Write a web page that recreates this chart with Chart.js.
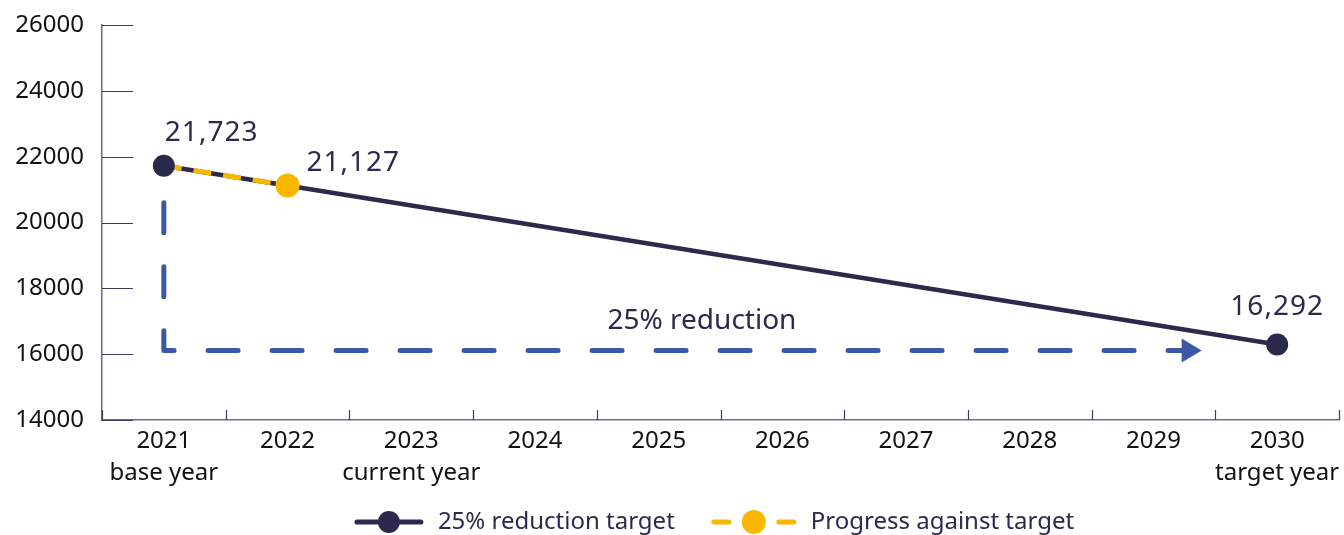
<!DOCTYPE html>
<html>
<head>
<meta charset="utf-8">
<title>Emissions reduction target</title>
<script src="https://cdn.jsdelivr.net/npm/chart.js@4.4.1/dist/chart.umd.min.js"></script>
<style>
  html, body { margin: 0; padding: 0; background: #ffffff; }
  #wrap { width: 1344px; height: 535px; position: relative; }
</style>
</head>
<body>
<div id="wrap"><canvas id="chart"></canvas></div>
<script>
// ---- data ----
const years = ['2021', '2022', '2023', '2024', '2025', '2026', '2027', '2028', '2029', '2030'];
const yearNotes = ['base year', '', 'current year', '', '', '', '', '', '', 'target year'];
const targetValues = [21723, null, null, null, null, null, null, null, null, 16292];
const progressValues = [21723, 21127, null, null, null, null, null, null, null, null];
const yTickValues = [14000, 16000, 18000, 20000, 22000, 24000, 26000];
const seriesNames = ['25% reduction target', 'Progress against target'];

// dashed "25% reduction" bracket, in data coordinates (category index / value)
const reductionArrow = { fromIndex: 0, toIndex: 8.39, topValue: 20600, baseValue: 16110 };
const reductionNote = { text: '25% reduction', index: 4.35, value: 17000 };

// ---- styles ----
const NAVY = '#2b2a4c';
const GOLD = '#f9b700';
const BLUE = '#3b58a6';
const AXIS = '#6f6d8a';
const FONT = '"Noto Sans", "Open Sans", sans-serif';

const fmt = v => v.toLocaleString('en-US');

const decorations = {
  id: 'decorations',
  beforeDatasetsDraw(chart) {
    const { ctx, chartArea: a, scales: { x, y } } = chart;
    ctx.save();
    // inward tick marks on both axes
    ctx.strokeStyle = '#3d3c5c';
    ctx.lineWidth = 1.2;
    ctx.beginPath();
    yTickValues.forEach(v => {
      const py = Math.round(y.getPixelForValue(v)) + 0.5;
      ctx.moveTo(a.left, py);
      ctx.lineTo(a.left + 31, py);
    });
    for (let i = 0; i <= years.length; i++) {
      const px = Math.round(x.getPixelForValue(i - 0.5)) + 0.5;
      ctx.moveTo(px, a.bottom);
      ctx.lineTo(px, a.bottom - 10);
    }
    ctx.stroke();

    // reduction bracket with arrow head
    const x0 = x.getPixelForValue(reductionArrow.fromIndex);
    const x1 = x.getPixelForValue(reductionArrow.toIndex);
    const yTop = y.getPixelForValue(reductionArrow.topValue);
    const yBase = y.getPixelForValue(reductionArrow.baseValue);
    const head = 20;
    ctx.strokeStyle = BLUE;
    ctx.fillStyle = BLUE;
    ctx.lineWidth = 5;
    ctx.lineCap = 'round';
    ctx.lineJoin = 'round';
    ctx.setLineDash([30, 34]);
    ctx.beginPath();
    ctx.moveTo(x0, yTop);
    ctx.lineTo(x0, yBase);
    ctx.lineTo(x1 - head, yBase);
    ctx.stroke();
    ctx.setLineDash([]);
    ctx.beginPath();
    ctx.moveTo(x1, yBase);
    ctx.lineTo(x1 - head, yBase - 12);
    ctx.lineTo(x1 - head, yBase + 12);
    ctx.closePath();
    ctx.fill();

    // bracket caption
    ctx.fillStyle = NAVY;
    ctx.font = '28px ' + FONT;
    ctx.textAlign = 'center';
    ctx.textBaseline = 'middle';
    ctx.fillText(reductionNote.text, x.getPixelForValue(reductionNote.index), y.getPixelForValue(reductionNote.value));
    ctx.restore();
  },
  afterDatasetsDraw(chart) {
    const { ctx, chartArea: a, scales: { x, y } } = chart;
    ctx.save();
    ctx.fillStyle = NAVY;
    ctx.font = '28px ' + FONT;
    ctx.textBaseline = 'middle';
    if ('letterSpacing' in ctx) ctx.letterSpacing = '1px';

    // value labels
    targetValues.forEach((v, i) => {
      if (v === null) return;
      const px = x.getPixelForValue(i), py = y.getPixelForValue(v);
      if (i === 0) { ctx.textAlign = 'left'; ctx.fillText(fmt(v), px + 1, py - 33); }
      else { ctx.textAlign = 'center'; ctx.fillText(fmt(v), px, py - 38); }
    });
    progressValues.forEach((v, i) => {
      if (v === null || i === 0) return;
      const px = x.getPixelForValue(i), py = y.getPixelForValue(v);
      ctx.textAlign = 'left';
      ctx.fillText(fmt(v), px + 19, py - 22);
    });

    // legend
    if ('letterSpacing' in ctx) ctx.letterSpacing = '0px';
    ctx.font = '24px ' + FONT;
    const ly = 522;
    const sym1 = 68, sym2 = 84, gapText = 15, gapItems = 37;
    const w1 = ctx.measureText(seriesNames[0]).width;
    const w2 = ctx.measureText(seriesNames[1]).width;
    const total = sym1 + gapText + w1 + gapItems + sym2 + gapText + w2;
    let cx = (a.left + a.right) / 2 - total / 2 - 6;

    ctx.strokeStyle = NAVY;
    ctx.lineWidth = 5;
    ctx.lineCap = 'round';
    ctx.beginPath();
    ctx.moveTo(cx + 2, ly); ctx.lineTo(cx + sym1 - 2, ly);
    ctx.stroke();
    ctx.beginPath();
    ctx.arc(cx + sym1 / 2, ly, 11, 0, Math.PI * 2);
    ctx.fill();
    cx += sym1 + gapText;
    ctx.textAlign = 'left';
    ctx.fillText(seriesNames[0], cx, ly);
    cx += w1 + gapItems;

    ctx.strokeStyle = GOLD;
    ctx.fillStyle = GOLD;
    ctx.beginPath();
    ctx.moveTo(cx + 2, ly); ctx.lineTo(cx + 17, ly);
    ctx.moveTo(cx + sym2 - 17, ly); ctx.lineTo(cx + sym2 - 2, ly);
    ctx.stroke();
    ctx.beginPath();
    ctx.arc(cx + sym2 / 2, ly, 12, 0, Math.PI * 2);
    ctx.fill();
    cx += sym2 + gapText;
    ctx.fillStyle = NAVY;
    ctx.fillText(seriesNames[1], cx, ly);
    ctx.restore();
  }
};

new Chart(document.getElementById('chart'), {
  type: 'line',
  data: {
    labels: years.map((yr, i) => yearNotes[i] ? [yr, yearNotes[i]] : yr),
    datasets: [
      { // target markers, drawn on top
        label: seriesNames[0],
        data: targetValues,
        showLine: false,
        pointRadius: 11,
        pointHoverRadius: 11,
        pointBackgroundColor: NAVY,
        pointBorderWidth: 0,
        borderColor: NAVY,
        order: 0
      },
      {
        label: seriesNames[1],
        data: progressValues,
        borderColor: GOLD,
        borderWidth: 5,
        borderDash: [18, 12],
        pointRadius: progressValues.map((v, i) => i === 0 ? 0 : 12),
        pointHoverRadius: 12,
        pointBackgroundColor: GOLD,
        pointBorderWidth: 0,
        tension: 0,
        order: 1
      },
      { // target trajectory line
        label: seriesNames[0],
        data: targetValues,
        spanGaps: true,
        borderColor: NAVY,
        borderWidth: 4.5,
        pointRadius: 0,
        tension: 0,
        order: 2
      }
    ]
  },
  options: {
    responsive: true,
    maintainAspectRatio: false,
    animation: false,
    events: [],
    layout: { autoPadding: false, padding: { top: 25, right: 5, bottom: 0, left: 0 } },
    plugins: { legend: { display: false }, tooltip: { enabled: false } },
    scales: {
      x: {
        type: 'category',
        offset: true,
        grid: { display: true, offset: true, drawOnChartArea: false, drawTicks: false, color: 'rgba(0,0,0,0)' },
        border: { display: true, color: AXIS, width: 1.5 },
        ticks: {
          color: '#111111',
          padding: 5,
          maxRotation: 0,
          autoSkip: false,
          font: { family: FONT, size: 24, lineHeight: 1.33 }
        },
        afterFit(s) { s.height = 115; s.paddingLeft = 0; s.paddingRight = 0; }
      },
      y: {
        min: 14000,
        max: 26000,
        grid: { drawOnChartArea: false, drawTicks: false, color: 'rgba(0,0,0,0)' },
        border: { display: true, color: AXIS, width: 1.5 },
        afterBuildTicks(s) { s.ticks = yTickValues.map(v => ({ value: v })); },
        ticks: {
          color: '#111111',
          padding: 18,
          callback: v => String(v),
          font: { family: FONT, size: 24 }
        },
        afterFit(s) { s.width = 102; s.paddingTop = 0; s.paddingBottom = 0; }
      }
    }
  },
  plugins: [decorations]
});
</script>
</body>
</html>
